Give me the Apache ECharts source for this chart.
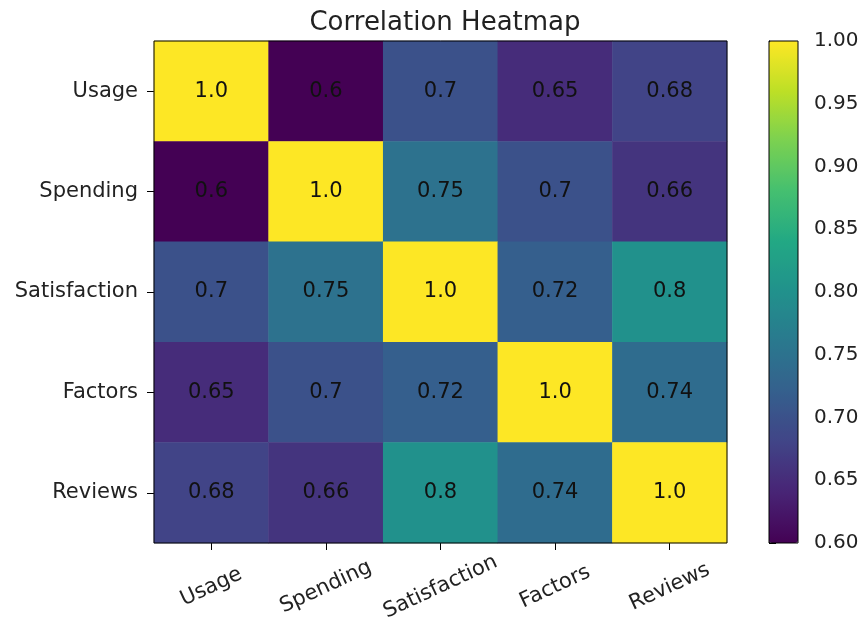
<!DOCTYPE html>
<html>
<head>
<meta charset="utf-8">
<script src="https://cdn.jsdelivr.net/npm/echarts@6/dist/echarts.min.js"></script>
<style>html,body{margin:0;padding:0;background:#fff}#c{width:863px;height:629px}</style>
</head>
<body>
<div id="c"></div>
<script>
const categories = ['Usage', 'Spending', 'Satisfaction', 'Factors', 'Reviews'];
const rowUsage = [1.0, 0.6, 0.7, 0.65, 0.68];
const rowSpending = [0.6, 1.0, 0.75, 0.7, 0.66];
const rowSatisfaction = [0.7, 0.75, 1.0, 0.72, 0.8];
const rowFactors = [0.65, 0.7, 0.72, 1.0, 0.74];
const rowReviews = [0.68, 0.66, 0.8, 0.74, 1.0];
const colorbarMin = 0.6, colorbarMax = 1.0, colorbarStep = 0.05;
const viridis = ['#440154','#482475','#414487','#355f8d','#2a788e','#21918c','#22a884','#44bf70','#7ad151','#bddf26','#fde725'];

const rows = [rowUsage, rowSpending, rowSatisfaction, rowFactors, rowReviews];
const data = [];
rows.forEach((r, yi) => r.forEach((v, xi) => data.push([xi, yi, v])));

const font = 'DejaVu Sans';
const chart = echarts.init(document.getElementById('c'), null, {renderer: 'canvas'});
chart.setOption({
  animation: false,
  backgroundColor: '#fff',
  title: {
    text: 'Correlation Heatmap', left: 440, top: 5, textAlign: 'center',
    textStyle: {fontFamily: font, fontSize: 26, fontWeight: 'normal', color: '#222'}
  },
  grid: [
    {left: 154, top: 41, width: 573, height: 502, show: true, z: 5, backgroundColor: 'transparent', borderColor: '#000', borderWidth: 1},
    {left: 769, top: 41, width: 29, height: 502, show: true, z: 10, backgroundColor: 'transparent', borderColor: '#000', borderWidth: 1}
  ],
  xAxis: [
    {type: 'category', gridIndex: 0, data: categories, position: 'bottom',
     axisLine: {show: false}, splitLine: {show: false},
     axisTick: {show: true, alignWithLabel: true, length: 7, lineStyle: {color: '#000'}},
     axisLabel: {rotate: 25, align: 'center', verticalAlign: 'middle', margin: 44, fontFamily: font, fontSize: 21, color: '#222'}},
    {type: 'value', gridIndex: 1, show: false, min: 0, max: 1}
  ],
  yAxis: [
    {type: 'category', gridIndex: 0, data: categories, inverse: true,
     axisLine: {show: false}, splitLine: {show: false},
     axisTick: {show: true, alignWithLabel: true, length: 7, lineStyle: {color: '#000'}},
     axisLabel: {margin: 16, fontFamily: font, fontSize: 21, color: '#222'}},
    {type: 'value', gridIndex: 1, position: 'right', min: colorbarMin, max: colorbarMax, interval: colorbarStep,
     axisLine: {show: true, lineStyle: {color: '#000'}}, splitLine: {show: false},
     axisTick: {show: true, length: 7, lineStyle: {color: '#000'}},
     axisLabel: {margin: 16, fontFamily: font, fontSize: 20, color: '#222', formatter: v => v.toFixed(2)}}
  ],
  visualMap: {
    type: 'continuous', min: colorbarMin, max: colorbarMax, seriesIndex: 0,
    orient: 'vertical', left: 769, top: 41, itemWidth: 29, itemHeight: 502,
    padding: 0, text: ['', ''], showLabel: false, calculable: false, hoverLink: false,
    indicatorSize: 0, handleSize: 0, handleIcon: 'none', indicatorIcon: 'none',
    handleStyle: {opacity: 0, borderWidth: 0}, indicatorStyle: {opacity: 0, borderWidth: 0},
    inRange: {color: viridis}
  },
  series: [{
    type: 'heatmap', xAxisIndex: 0, yAxisIndex: 0, data: data,
    itemStyle: {borderWidth: 0},
    label: {show: true, fontFamily: font, fontSize: 21, color: '#111',
      formatter: p => { const v = p.value[2]; return Number.isInteger(v) ? v.toFixed(1) : String(v); }},
    emphasis: {disabled: true}
  }]
});
</script>
</body>
</html>
